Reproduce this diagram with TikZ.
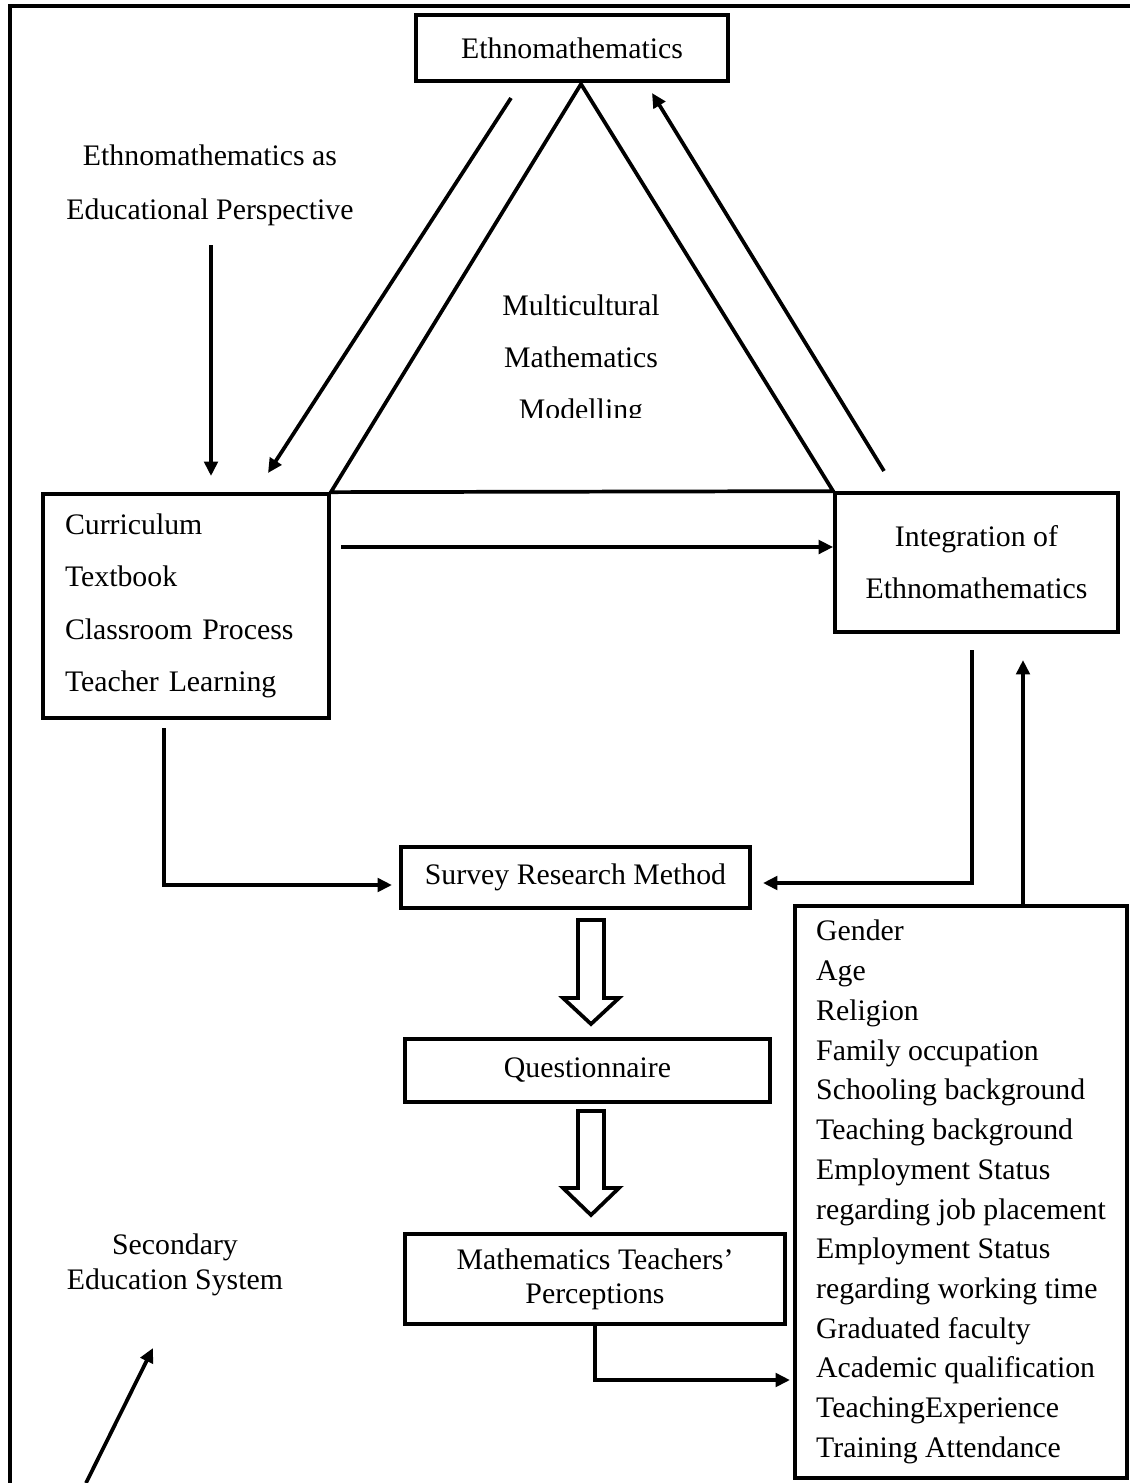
\documentclass[tikz,border=0pt]{standalone}
\usepackage{fontspec}
\setmainfont{Liberation Serif}
\usetikzlibrary{arrows.meta}
\newcommand{\px}{0.4027pt}

\begin{document}
\begin{tikzpicture}[
    x=\px, y=-\px,
    box/.style={rectangle, draw, line width=1.5pt, inner sep=0pt, font=\fontsize{12}{14}\selectfont},
    note/.style={align=center, inner sep=0pt, font=\fontsize{12}{14}\selectfont},
    link/.style={line width=1.5pt},
    arr/.style={-{Triangle[length=5.8pt, width=5.4pt]}, line width=1.5pt}
]
\useasboundingbox (0,0) rectangle (1130,1483);

% Frame
\draw[line width=1.7pt] (10,1483) -- (10,6) -- (1130,6);

% Top level
\node[box, minimum width=312*\px, minimum height=66*\px] (ethno) at (572,48) {Ethnomathematics};

% Second level
\node[box, minimum width=286*\px, minimum height=224*\px, text width=242*\px, align=left, font=\fontsize{12}{21.1}\selectfont] (curr) at (186,606) {Curriculum\\Textbook\\Classroom Process\\Teacher Learning};
\node[box, minimum width=283*\px, minimum height=139*\px, align=center, font=\fontsize{12}{20.9}\selectfont] (integ) at (976.5,562.5) {Integration of\\Ethnomathematics};

% Method
\node[box, minimum width=349*\px, minimum height=61*\px] (survey) at (575.5,877.5) {Survey Research Method};
\node[box, minimum width=365*\px, minimum height=63*\px] (quest) at (587.5,1070.5) {Questionnaire};
\node[box, minimum width=380*\px, minimum height=90*\px, align=center, font=\fontsize{12}{13.7}\selectfont] (percep) at (595,1279) {Mathematics Teachers'\\Perceptions};
\node[box, minimum width=332*\px, minimum height=572*\px, align=left, font=\fontsize{12}{16.0}\selectfont] (attr) at (961,1192) {Gender\\Age\\Religion\\Family occupation\\Schooling background\\Teaching background\\Employment Status\\regarding job placement\\Employment Status\\regarding working time\\Graduated faculty\\Academic qualification\\TeachingExperience\\Training Attendance};

% Labels
\node[note, font=\fontsize{12}{21.7}\selectfont] (persp) at (210,185) {Ethnomathematics as\\Educational Perspective};
\begin{scope}
\clip (440,280) rectangle (720,417);
\node[note, font=\fontsize{12}{20.9}\selectfont] (multi) at (581,360) {Multicultural\\Mathematics\\Modelling};
\end{scope}
\node[note] (system) at (175,1265) {Secondary\\Education System};

% Free ends
\coordinate (apex) at (581,84);
\coordinate (d1) at (511,98);
\coordinate (d2) at (268,473);
\coordinate (u1) at (884,471);
\coordinate (u2) at (652,93);
\coordinate (v1) at (211,245);
\coordinate (v2) at (211,476);
\coordinate (h1) at (341,547);
\coordinate (c1) at (164,728);
\coordinate (c2) at (392,885);
\coordinate (i1) at (972,650);
\coordinate (i2) at (763,883);
\coordinate (a1) at (1023,660);
\coordinate (p1) at (790,1380);
\coordinate (s1) at (86,1483);
\coordinate (s2) at (153,1348);

% Triangle
\draw[link] (curr.north east) -- (apex) -- (integ.north west) -- cycle;

% Arrows
\draw[arr] (d1) -- (d2);
\draw[arr] (u1) -- (u2);
\draw[arr] (v1) -- (v2);
\draw[arr] (h1) -- (h1 -| integ.west);
\draw[arr] (c1) |- (c2);
\draw[arr] (i1) |- (i2);
\draw[arr] (a1 |- attr.north) -- (a1);
\draw[arr] (percep.south) |- (p1);
\draw[arr] (s1) -- (s2);

% Hollow arrows
\draw[link] (578,920) -- ++(26,0) -- ++(0,78) -- ++(15,0) -- ++(-28,26) -- ++(-28,-26) -- ++(15,0) -- cycle;
\draw[link] (578,1111) -- ++(26,0) -- ++(0,77) -- ++(15,0) -- ++(-28,27) -- ++(-28,-27) -- ++(15,0) -- cycle;

\end{tikzpicture}
\end{document}
